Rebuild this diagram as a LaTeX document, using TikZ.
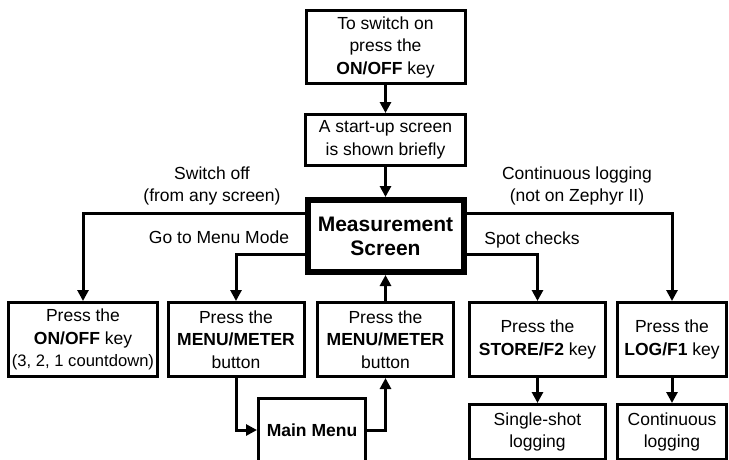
\documentclass[tikz,border=0pt]{standalone}
\usepackage{fontspec}
\setmainfont{Liberation Sans}
\usetikzlibrary{arrows.meta}
\tikzset{
  box/.style={draw, line width=3pt, align=center, inner sep=0pt, font=\fontsize{17.5}{22.5}\selectfont},
  lbl/.style={align=center, inner sep=0pt, font=\fontsize{17.5}{22}\selectfont},
  conn/.style={line width=3pt},
}

\begin{document}
\begin{tikzpicture}[x=1pt,y=-1pt,>={Triangle[length=11pt,width=11pt]}]
    \useasboundingbox (0,0) rectangle (729,459);
    \clip (0,0) rectangle (729,459);
    % centre column
    \node[box, minimum width=159pt, minimum height=73pt] (switchon) at (385.5,47) {To switch on\\press the\\\textbf{ON/OFF} key};
    \node[box, minimum width=160pt, minimum height=51pt] (startup) at (385.5,140) {A start-up screen\\is shown briefly};
    \node[box, line width=6pt, minimum width=156pt, minimum height=72pt, font=\fontsize{21}{24}\selectfont\bfseries] (measure) at (385.5,236) {Measurement\\Screen};
    % row of keys
    \node[box, minimum width=149pt, minimum height=74pt] (offbox) at (83,339.5) {Press the\\\textbf{ON/OFF} key\\{\fontsize{16.6}{22.5}\selectfont (3, 2, 1 countdown)}};
    \node[box, minimum width=136pt, minimum height=74pt] (menubox) at (236,339.5) {Press the\\\textbf{MENU/METER}\\button};
    \node[box, minimum width=136pt, minimum height=74pt] (backbox) at (385.5,339.5) {Press the\\\textbf{MENU/METER}\\button};
    \node[box, minimum width=136pt, minimum height=74pt] (storebox) at (537.5,339.5) {Press the\\\textbf{STORE/F2} key};
    \node[box, minimum width=109pt, minimum height=74pt] (logbox) at (672,339.5) {Press the\\\textbf{LOG/F1} key};
    % bottom row (cut off)
    \node[box, minimum width=107pt, minimum height=63pt, font=\fontsize{17.5}{22.5}\selectfont\bfseries] (mainmenu) at (312,430) {Main Menu};
    \node[box, minimum width=136pt, minimum height=55pt] (single) at (537.5,432) {Single-shot\\logging};
    \node[box, minimum width=109pt, minimum height=55pt] (contin) at (672,432) {Continuous\\logging};
    % labels
    \node[lbl] (offlbl) at (212,186) {Switch off\\(from any screen)};
    \node[lbl] (menulbl) at (219,237) {Go to Menu Mode};
    \node[lbl] (loglbl) at (577,186) {Continuous logging\\(not on Zephyr II)};
    \node[lbl] (spotlbl) at (532,240) {Spot checks};
    % connectors
    \draw[conn,->] (switchon) -- (startup);
    \draw[conn,->] (startup) -- (measure);
    \draw[conn,->] ([yshift=23pt]measure.west) -| (offbox.north);
    \draw[conn,->] ([yshift=-18pt]measure.west) -| (menubox.north);
    \draw[conn,->] (menubox.south) |- (mainmenu.west);
    \draw[conn,->] (mainmenu.east) -| (backbox.south);
    \draw[conn,->] (backbox) -- (measure);
    \draw[conn,->] ([yshift=23pt]measure.east) -| (logbox.north);
    \draw[conn,->] ([yshift=-18pt]measure.east) -| (storebox.north);
    \draw[conn,->] (storebox) -- (single);
    \draw[conn,->] (logbox) -- (contin);
\end{tikzpicture}
\end{document}
